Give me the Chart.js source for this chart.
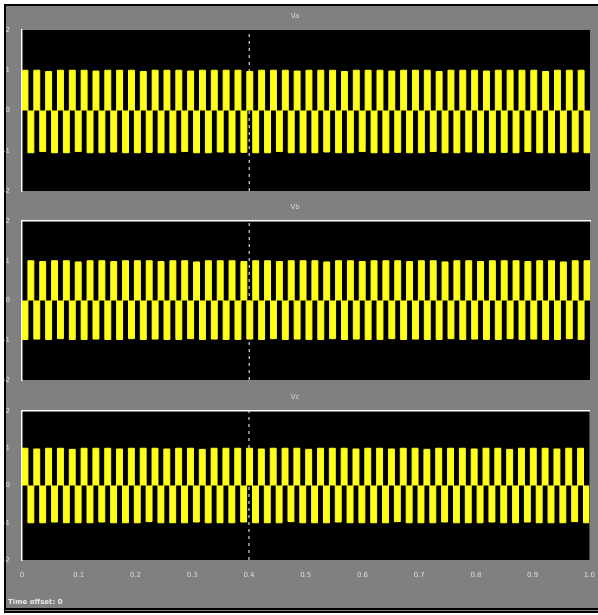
<!DOCTYPE html>
<html>
<head>
<meta charset="utf-8">
<script src="https://cdn.jsdelivr.net/npm/chart.js@4/dist/chart.umd.min.js"></script>
<style>
  body { margin: 0; background: #fff; width: 598px; height: 615px; overflow: hidden; }
  #frame {
    position: absolute; left: 4px; top: 4px; width: 592px; height: 602px;
    background: #808080; border-top: 2px solid #000; border-left: 2px solid #000;
    border-bottom: 5px double #000;
  }
  canvas { position: absolute; left: 0; }
  #offset {
    position: absolute; left: 8px; top: 598px;
    font: bold 7px "DejaVu Sans", sans-serif; color: #e8e8e8;
  }
</style>
</head>
<body>
<div id="frame"></div>
<canvas id="c1" width="598" height="200" style="top:0px"></canvas>
<canvas id="c2" width="598" height="190" style="top:200px"></canvas>
<canvas id="c3" width="598" height="225" style="top:390px"></canvas>
<div id="offset">Time offset: 0</div>
<script>
// scope settings
const titles = ["Va", "Vb", "Vc"];
const yTicks = [-2, -1, 0, 1, 2];
const xTicks = [0, 0.1, 0.2, 0.3, 0.4, 0.5, 0.6, 0.7, 0.8, 0.9, 1];
const cursorTime = 0.4;

// one value per half cycle
const trace1 = [
  1, -1.05, 1, -1.02, 0.97, -1.05, 1, -1.05, 1, -1.02, 1, -1.05,
  0.98, -1.05, 1, -1.03, 1, -1.05, 1, -1.05, 0.97, -1.04, 1, -1.05,
  1, -1.05, 1, -1.02, 0.98, -1.05, 1, -1.05, 1, -1.03, 1, -1.05,
  1, -1.04, 0.97, -1.05, 1, -1.05, 1, -1.02, 1, -1.05, 0.98, -1.05,
  1, -1.05, 1, -1.03, 1, -1.05, 0.97, -1.05, 1, -1.02, 1, -1.05,
  1, -1.05, 0.98, -1.04, 1, -1.05, 1, -1.05, 1, -1.02, 0.97, -1.05,
  1, -1.05, 1, -1.03, 1, -1.05, 0.98, -1.05, 1, -1.04, 1, -1.05,
  1, -1.02, 1, -1.05, 0.97, -1.05, 1, -1.05, 1, -1.03, 1, -1.05
];
const trace2 = [
  -0.98, 1, -0.97, 0.98, -0.98, 1, -0.96, 1, -0.98, 0.97, -0.98, 1,
  -0.97, 1, -0.98, 0.98, -0.98, 1, -0.96, 1, -0.98, 1, -0.97, 0.98,
  -0.98, 1, -0.98, 1, -0.96, 0.97, -0.98, 1, -0.97, 1, -0.98, 1,
  -0.98, 0.98, -0.97, 1, -0.98, 1, -0.96, 0.98, -0.98, 1, -0.97, 1,
  -0.98, 1, -0.98, 0.97, -0.96, 1, -0.98, 1, -0.97, 0.98, -0.98, 1,
  -0.98, 1, -0.96, 1, -0.98, 0.98, -0.97, 1, -0.98, 1, -0.98, 0.97,
  -0.96, 1, -0.98, 1, -0.97, 0.98, -0.98, 1, -0.98, 1, -0.96, 1,
  -0.98, 0.98, -0.97, 1, -0.98, 1, -0.98, 0.97, -0.96, 1, -0.98, 1
];
const trace3 = [
  1, -1, 0.98, -1, 1, -0.98, 1, -1, 0.97, -1, 1, -1,
  1, -0.98, 1, -1, 0.98, -1, 1, -1, 1, -0.97, 1, -1,
  0.98, -1, 1, -1, 1, -0.98, 0.97, -1, 1, -1, 1, -1,
  1, -0.98, 1, -1, 0.98, -1, 1, -1, 1, -0.97, 1, -1,
  0.97, -1, 1, -1, 1, -0.98, 1, -1, 0.98, -1, 1, -1,
  1, -1, 0.98, -0.97, 1, -1, 1, -1, 0.97, -1, 1, -0.98,
  1, -1, 1, -1, 0.98, -1, 1, -0.98, 1, -1, 0.97, -1,
  1, -0.98, 1, -1, 1, -1, 0.98, -1, 1, -0.97, 1, -1
];

function toPoints(values) {
  const step = 1 / values.length;
  const pts = values.map((v, i) => ({ x: i * step, y: v }));
  pts.push({ x: 1, y: values[values.length - 1] });
  return pts;
}

const blackArea = {
  id: "blackArea",
  beforeDraw(chart) {
    const { ctx, chartArea: a } = chart;
    ctx.save();
    ctx.fillStyle = "#000";
    ctx.fillRect(a.left, a.top, a.right - a.left, a.bottom - a.top);
    ctx.restore();
  },
};

function makeScope(id, title, values, opts) {
  return new Chart(document.getElementById(id), {
    type: "line",
    data: {
      datasets: [
        {
          data: toPoints(values),
          stepped: true,
          borderColor: "#ffff1a",
          backgroundColor: "#ffff1a",
          borderWidth: 1,
          pointRadius: 0,
          fill: "origin",
        },
        {
          data: [{ x: cursorTime, y: -2 }, { x: cursorTime, y: 2 }],
          borderColor: "#ffffff",
          borderWidth: 1,
          borderDash: [3, 4],
          pointRadius: 0,
          fill: false,
        },
      ],
    },
    options: {
      responsive: false,
      animation: false,
      layout: { padding: { left: 0, right: 8, top: 0, bottom: 0 } },
      plugins: {
        legend: { display: false },
        tooltip: { enabled: false },
        title: {
          display: true,
          text: title,
          color: "#d8d8d8",
          font: { family: "DejaVu Sans", size: 7, weight: "normal" },
          padding: { top: opts.titleTop, bottom: 9.6 },
        },
      },
      scales: {
        x: {
          type: "linear",
          min: 0,
          max: 1,
          afterBuildTicks: (s) => { s.ticks = xTicks.map((v) => ({ value: v })); },
          afterFit: (s) => { s.height = opts.xHeight; },
          grid: { display: false },
          border: { display: false },
          ticks: {
            display: opts.xLabels,
            color: "#dcdcdc",
            font: { family: "DejaVu Sans", size: 7 },
            padding: 3,
            maxRotation: 0,
            autoSkip: false,
          },
        },
        x2: {
          type: "linear",
          position: "top",
          min: 0,
          max: 1,
          afterFit: (s) => { s.height = 0; },
          grid: { display: false },
          border: { display: opts.topLine, color: "#ffffff", width: 1.5 },
          ticks: { display: false },
        },
        y: {
          min: -2,
          max: 2,
          afterBuildTicks: (s) => { s.ticks = yTicks.map((v) => ({ value: v })); },
          afterFit: (s) => { s.width = 22; },
          grid: { display: false },
          border: { display: true, color: "#ffffff", width: 1.5 },
          ticks: {
            color: "#dcdcdc",
            font: { family: "DejaVu Sans", size: 7 },
            padding: 4,
          },
        },
      },
    },
    plugins: [blackArea],
  });
}

makeScope("c1", titles[0], trace1, { titleTop: 12, xHeight: 9, xLabels: false, topLine: false });
makeScope("c2", titles[1], trace2, { titleTop: 3, xHeight: 10, xLabels: false, topLine: true });
makeScope("c3", titles[2], trace3, { titleTop: 3, xHeight: 55, xLabels: true, topLine: true });
</script>
</body>
</html>
